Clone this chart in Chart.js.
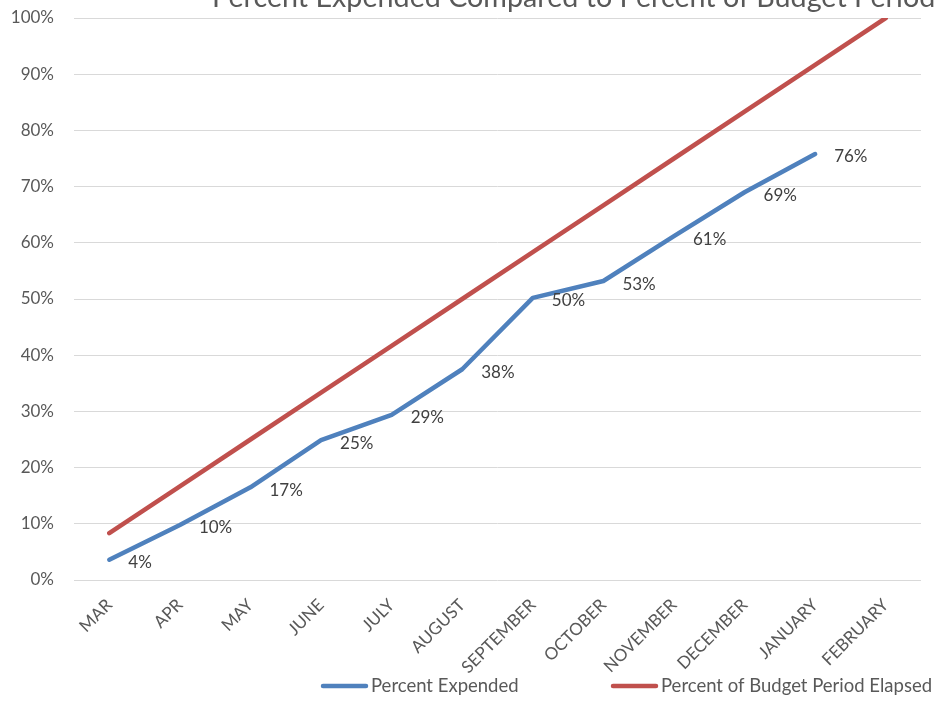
<!DOCTYPE html>
<html>
<head>
<meta charset="utf-8">
<script src="https://cdn.jsdelivr.net/npm/chart.js@4"></script>
<style>
  html, body { margin: 0; padding: 0; background: #ffffff; overflow: hidden; }
  #wrap { position: relative; width: 936px; height: 701px; }
</style>
</head>
<body>
<div id="wrap"><canvas id="c" width="936" height="701"></canvas></div>
<script>
const months = ['MAR','APR','MAY','JUNE','JULY','AUGUST','SEPTEMBER','OCTOBER','NOVEMBER','DECEMBER','JANUARY','FEBRUARY'];
const percentExpended = [3.6, 9.8, 16.5, 24.9, 29.4, 37.5, 50.2, 53.2, 61.2, 69.0, 75.8];
const percentElapsed = [8.33, 16.67, 25, 33.33, 41.67, 50, 58.33, 66.67, 75, 83.33, 91.67, 100];
const seriesNames = ['Percent Expended', 'Percent of Budget Period Elapsed'];
const yTicks = [0, 10, 20, 30, 40, 50, 60, 70, 80, 90, 100];
const chartTitle = 'Percent Expended Compared to Percent of Budget Period Elapsed';

const BLUE = '#4f81bd';
const RED = '#c0504d';
const FONT = 'Lato, "Open Sans", sans-serif';

const titlePlugin = {
  id: 'clippedTitle',
  afterDraw(chart) {
    const ctx = chart.ctx;
    ctx.save();
    ctx.font = '28.7px ' + FONT;
    ctx.fillStyle = '#595959';
    ctx.textAlign = 'left';
    ctx.textBaseline = 'alphabetic';
    ctx.fillText(chartTitle, 212, 7);
    ctx.restore();
  }
};

const labelPlugin = {
  id: 'pointLabels',
  afterDatasetsDraw(chart) {
    const ctx = chart.ctx;
    const meta = chart.getDatasetMeta(0);
    const vals = chart.data.datasets[0].data;
    ctx.save();
    ctx.font = '17px ' + FONT;
    ctx.fillStyle = '#404040';
    ctx.textAlign = 'left';
    ctx.textBaseline = 'middle';
    meta.data.forEach((pt, i) => {
      if (vals[i] == null) return;
      ctx.fillText(Math.round(vals[i]) + '%', pt.x + 19, pt.y + 3);
    });
    ctx.restore();
  }
};

const legendPlugin = {
  id: 'bottomLegend',
  afterDraw(chart) {
    const ctx = chart.ctx;
    const starts = [321, 611];
    const y = 686;
    ctx.save();
    ctx.font = '18.5px ' + FONT;
    ctx.textAlign = 'left';
    ctx.textBaseline = 'middle';
    chart.data.datasets.forEach((ds, i) => {
      const x0 = starts[i];
      ctx.strokeStyle = ds.borderColor;
      ctx.lineWidth = 4.5;
      ctx.lineCap = 'round';
      ctx.beginPath();
      ctx.moveTo(x0 + 2, y);
      ctx.lineTo(x0 + 45, y);
      ctx.stroke();
      ctx.fillStyle = '#595959';
      ctx.fillText(ds.label, x0 + 50, y);
    });
    ctx.restore();
  }
};

new Chart(document.getElementById('c'), {
  type: 'line',
  data: {
    labels: months,
    datasets: [
      {
        label: seriesNames[0],
        data: percentExpended,
        borderColor: BLUE,
        backgroundColor: BLUE,
        borderWidth: 4.5,
        borderCapStyle: 'round',
        borderJoinStyle: 'round',
        pointRadius: 0,
        tension: 0,
        fill: false
      },
      {
        label: seriesNames[1],
        data: percentElapsed,
        borderColor: RED,
        backgroundColor: RED,
        borderWidth: 4.5,
        borderCapStyle: 'round',
        borderJoinStyle: 'round',
        pointRadius: 0,
        tension: 0,
        fill: false
      }
    ]
  },
  options: {
    responsive: false,
    animation: false,
    layout: { padding: { top: 18, right: 15, left: 0, bottom: 0 } },
    plugins: {
      legend: { display: false },
      title: { display: false },
      tooltip: { enabled: false }
    },
    scales: {
      x: {
        offset: true,
        grid: { display: false, drawTicks: false },
        border: { display: false },
        ticks: {
          color: '#595959',
          font: { family: FONT, size: 17 },
          minRotation: 45,
          maxRotation: 45,
          padding: 15,
          autoSkip: false
        },
        afterFit(scale) { scale.height = 121; }
      },
      y: {
        min: 0,
        max: 100,
        afterBuildTicks(scale) { scale.ticks = yTicks.map(v => ({ value: v })); },
        grid: { color: '#d9d9d9', lineWidth: 1, drawTicks: true, tickLength: 18, tickColor: 'rgba(0,0,0,0)' },
        border: { display: false },
        ticks: {
          color: '#595959',
          font: { family: FONT, size: 17 },
          padding: 2,
          callback: v => v + '%'
        },
        afterFit(scale) { scale.width = 74; }
      }
    }
  },
  plugins: [titlePlugin, labelPlugin, legendPlugin]
});
</script>
</body>
</html>
